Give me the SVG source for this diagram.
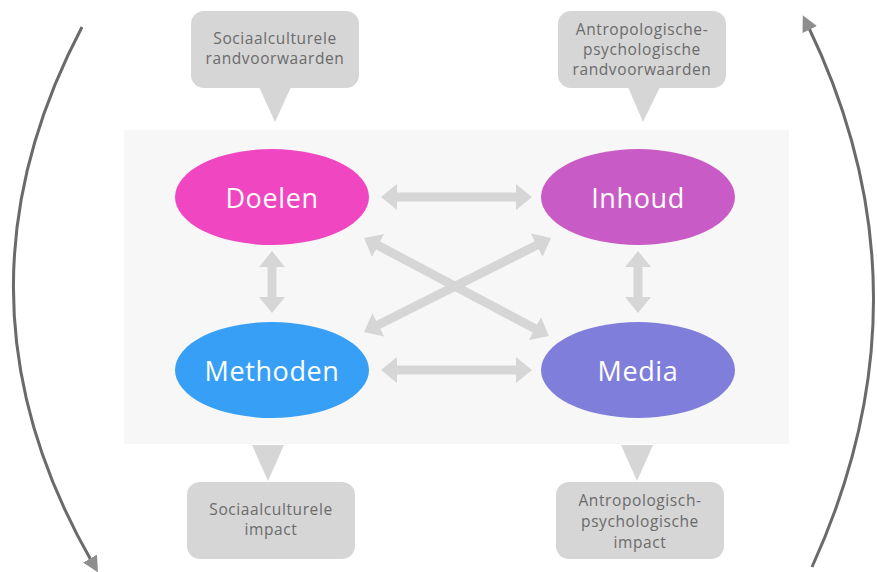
<svg xmlns="http://www.w3.org/2000/svg" width="877" height="572" viewBox="0 0 877 572">
<style>
.node-text{font-family:"Open Sans","Liberation Sans",sans-serif;font-size:27px;letter-spacing:0.6px;fill:#ffffff;text-anchor:middle;dominant-baseline:central}
.call{fill:#d6d6d6}
.call-text{font-family:"Open Sans","Liberation Sans",sans-serif;font-size:15.5px;letter-spacing:0.6px;fill:#6b6b6b;text-anchor:middle}
.link{stroke:#d6d6d6;stroke-width:9;fill:none;marker-start:url(#gh);marker-end:url(#gh)}
.cycle{stroke:#6a6a6a;stroke-width:3;fill:none;marker-end:url(#dh)}
</style>
<defs>
<marker id="gh" viewBox="0 0 16 26" refX="2" refY="13" markerWidth="16" markerHeight="26" markerUnits="userSpaceOnUse" orient="auto-start-reverse">
<path d="M0,0 L16,13 L0,26 z" fill="#d6d6d6"/>
</marker>
<marker id="dh" viewBox="0 0 16 16" refX="4" refY="8" markerWidth="16" markerHeight="16" markerUnits="userSpaceOnUse" orient="auto">
<path d="M0,0 L16,8 L0,16 z" fill="#8e8e8e"/>
</marker>
</defs>
<rect x="0" y="0" width="877" height="572" fill="#ffffff"/>
<rect id="panel" x="124" y="130" width="665" height="314" fill="#f7f7f7"/>

<g id="connectors">
<line class="link" x1="395" y1="197" x2="518" y2="197"/>
<line class="link" x1="395" y1="370" x2="518" y2="370"/>
<line class="link" x1="272" y1="265" x2="272" y2="299"/>
<line class="link" x1="638" y1="265" x2="638" y2="299"/>
<line class="link" x1="376.4" y1="244.6" x2="536.6" y2="329.5"/>
<line class="link" x1="538.5" y1="244.3" x2="376.5" y2="325.7"/>
<path class="cycle" d="M82,27 Q-60,297 92,562"/>
<path class="cycle" d="M812,567 Q937,293 808,26"/>
</g>

<g id="doelen">
<ellipse cx="272" cy="197" rx="97" ry="48" fill="#f046c1"/>
<text class="node-text" x="272" y="197">Doelen</text>
</g>
<g id="inhoud">
<ellipse cx="638" cy="197" rx="97" ry="48" fill="#c95bc6"/>
<text class="node-text" x="638" y="197">Inhoud</text>
</g>
<g id="methoden">
<ellipse cx="272" cy="370" rx="97" ry="48" fill="#37a0f6"/>
<text class="node-text" x="272" y="370">Methoden</text>
</g>
<g id="media">
<ellipse cx="638" cy="370" rx="97" ry="48" fill="#7f7edb"/>
<text class="node-text" x="638" y="370">Media</text>
</g>

<g id="callout-sociaal-rand">
<rect class="call" x="191" y="11" width="168" height="77" rx="13"/>
<polygon class="call" points="259,87 291,87 275,122"/>
<text class="call-text" x="275" y="44">Sociaalculturele</text>
<text class="call-text" x="275" y="64">randvoorwaarden</text>
</g>
<g id="callout-antro-rand">
<rect class="call" x="558" y="11" width="168" height="77" rx="13"/>
<polygon class="call" points="628,87 660,87 643,122"/>
<text class="call-text" x="642" y="35">Antropologische-</text>
<text class="call-text" x="642" y="55">psychologische</text>
<text class="call-text" x="642" y="75">randvoorwaarden</text>
</g>
<g id="callout-sociaal-impact">
<polygon class="call" points="252,445 284,445 268,481"/>
<rect class="call" x="187" y="482" width="168" height="77" rx="13"/>
<text class="call-text" x="271" y="515">Sociaalculturele</text>
<text class="call-text" x="271" y="535">impact</text>
</g>
<g id="callout-antro-impact">
<polygon class="call" points="621,445 653,445 637,481"/>
<rect class="call" x="556" y="482" width="168" height="77" rx="13"/>
<text class="call-text" x="640" y="506">Antropologisch-</text>
<text class="call-text" x="640" y="527">psychologische</text>
<text class="call-text" x="640" y="548">impact</text>
</g>
</svg>
